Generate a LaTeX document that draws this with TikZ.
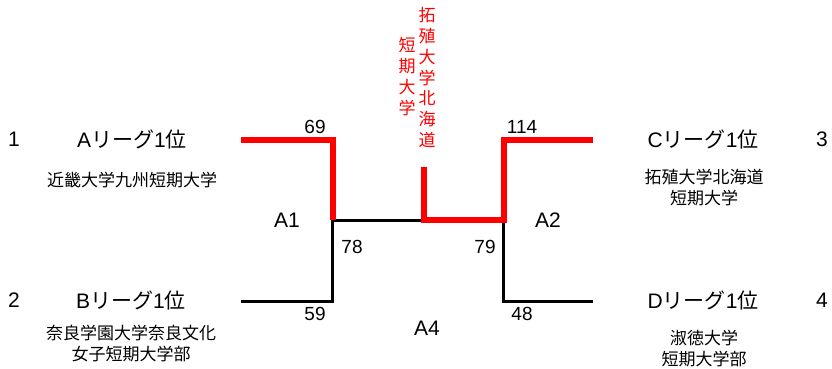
\documentclass[tikz,border=0pt]{standalone}
\usepackage{fontspec}
\setmainfont{Liberation Sans}
\newfontfamily\jp{Noto Sans CJK JP}
\begin{document}
\begin{tikzpicture}[x=1pt,y=-1pt,
  lbl/.style={inner sep=0pt, font=\fontsize{21}{25}\selectfont},
  score/.style={inner sep=0pt, font=\fontsize{19}{22}\selectfont},
  school/.style={inner sep=0pt, align=center, font=\jp\fontsize{17}{21}\selectfont},
  vtext/.style={inner sep=0pt, align=center, text=red, font=\jp\fontsize{17}{20.8}\selectfont},
  win/.style={draw=red, line width=6pt, line join=miter},
  lose/.style={draw=black, line width=3pt, line join=miter}]
\useasboundingbox (0,0) rectangle (832,369);
% seeds
\node[lbl] (n1) at (14,139) {1};
\node[lbl] (n2) at (14,300) {2};
\node[lbl] (n3) at (822,139) {3};
\node[lbl] (n4) at (822,300) {4};
% league headers
\node[lbl] (ha) at (132,139) {A{\jp リーグ}1{\jp 位}};
\node[lbl] (hb) at (131,300) {B{\jp リーグ}1{\jp 位}};
\node[lbl] (hc) at (703,139) {C{\jp リーグ}1{\jp 位}};
\node[lbl] (hd) at (703,300) {D{\jp リーグ}1{\jp 位}};
% schools
\node[school] (sa) at (132,180) {近畿大学九州短期大学};
\node[school] (sb) at (131,343.5) {奈良学園大学奈良文化\\女子短期大学部};
\node[school] (sc) at (704,187.5) {拓殖大学北海道\\短期大学};
\node[school] (sd) at (704,348.5) {淑徳大学\\短期大学部};
% champion (vertical)
\node[vtext] (w1) at (427,77.5) {拓\\殖\\大\\学\\北\\海\\道};
\node[vtext] (w2) at (407,76.5) {短\\期\\大\\学};
% game labels
\node[lbl] (g1) at (287,220) {A1};
\node[lbl] (g2) at (548,220) {A2};
\node[lbl] (g4) at (427,328) {A4};
% scores
\node[score] (s69) at (315,127) {69};
\node[score] (s114) at (522,127) {114};
\node[score] (s78) at (352,247) {78};
\node[score] (s79) at (485,247) {79};
\node[score] (s59) at (315,314) {59};
\node[score] (s48) at (522,314) {48};
% bracket points
\coordinate (a0) at (241,140);
\coordinate (a1) at (332.5,140);
\coordinate (m1) at (332.5,220);
\coordinate (b0) at (241,301);
\coordinate (b1) at (332.5,301);
\coordinate (c0) at (593,140);
\coordinate (c1) at (503.5,140);
\coordinate (m2) at (503.5,220);
\coordinate (d0) at (593,301);
\coordinate (d1) at (503.5,301);
\coordinate (mid) at (423.5,220);
\coordinate (top) at (423.5,167);
% losing paths
\draw[lose] (b0) -- (b1) -- (m1) -- (mid);
\draw[lose] (d0) -- (d1) -- (m2);
% winning paths
\draw[win] (a0) -- (a1) -- (m1);
\draw[win] (top) -- (mid) -- (m2) -- (c1) -- (c0);
\end{tikzpicture}
\end{document}
